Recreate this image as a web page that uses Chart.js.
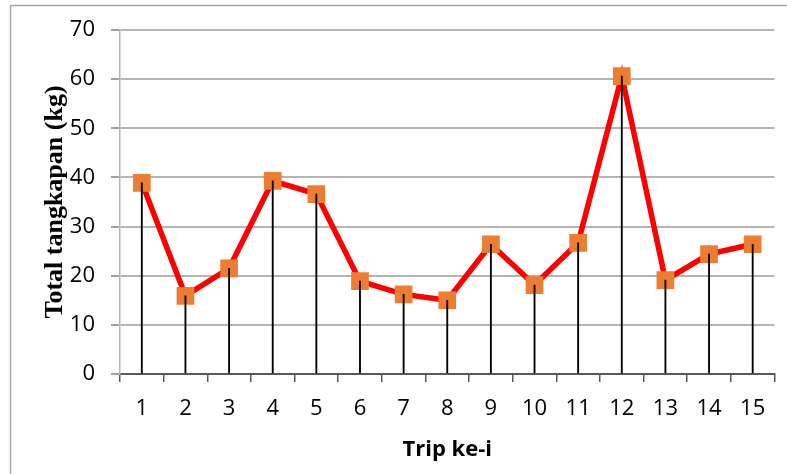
<!DOCTYPE html>
<html>
<head>
<meta charset="utf-8">
<script src="https://cdn.jsdelivr.net/npm/chart.js@4/dist/chart.umd.min.js"></script>
<style>
  html, body { margin: 0; padding: 0; background: #ffffff; }
  canvas { display: block; }
</style>
</head>
<body>
<canvas id="chart" width="787" height="474"></canvas>
<script>
// Catch per fishing trip
const trips = ['1', '2', '3', '4', '5', '6', '7', '8', '9', '10', '11', '12', '13', '14', '15'];
const totalCatchKg = [38.9, 15.9, 21.5, 39.3, 36.6, 18.9, 16.2, 15.0, 26.4, 18.1, 26.7, 60.6, 19.1, 24.4, 26.4];
const yTicks = [0, 10, 20, 30, 40, 50, 60, 70];

const xTitle = 'Trip ke-i';
const yTitle = 'Total tangkapan (kg)';

// Light grey frame around the whole chart
const frame = {
  id: 'frame',
  beforeDraw(chart) {
    const ctx = chart.ctx;
    ctx.save();
    ctx.fillStyle = '#ffffff';
    ctx.fillRect(0, 0, chart.width, chart.height);
    ctx.strokeStyle = '#a6a6a6';
    ctx.lineWidth = 1.5;
    ctx.strokeRect(10.5, 5.5, chart.width + 20, chart.height + 20);
    ctx.restore();
  }
};

const tickFont = { family: '"Open Sans", sans-serif', size: 22 };

new Chart(document.getElementById('chart'), {
  type: 'line',
  data: {
    labels: trips,
    datasets: [
      {
        // thin drop lines from each point to the axis
        type: 'bar',
        data: totalCatchKg,
        backgroundColor: '#000000',
        borderWidth: 0,
        barThickness: 1.2,
        order: 0
      },
      {
        type: 'line',
        data: totalCatchKg,
        borderColor: '#ff0000',
        borderWidth: 5.5,
        tension: 0,
        pointStyle: 'rect',
        pointRadius: 12.5,
        pointHoverRadius: 12.5,
        pointBackgroundColor: '#ed7d31',
        pointBorderWidth: 0,
        order: 1
      }
    ]
  },
  options: {
    responsive: false,
    devicePixelRatio: 1,
    animation: false,
    layout: { padding: { left: 0, top: 30, right: 9, bottom: 0 } },
    plugins: {
      legend: { display: false },
      tooltip: { enabled: false }
    },
    scales: {
      x: {
        type: 'category',
        offset: true,
        grid: {
          offset: true,
          drawOnChartArea: false,
          tickLength: 8,
          color: '#595959',
          lineWidth: 1.5
        },
        border: { color: '#595959', width: 2 },
        ticks: { font: tickFont, color: '#000000', padding: 14, maxRotation: 0 },
        title: {
          display: true,
          text: xTitle,
          color: '#000000',
          font: { family: '"Open Sans", sans-serif', size: 22, weight: 'bold' },
          padding: { top: 0, bottom: 11 }
        },
        afterFit(scale) { scale.height = 100; }
      },
      y: {
        min: 0,
        max: 70,
        afterBuildTicks(scale) { scale.ticks = yTicks.map(v => ({ value: v })); },
        grid: {
          color: '#b4b4b4',
          lineWidth: 2,
          tickLength: 9,
          tickColor: '#a0a0a0'
        },
        border: { color: '#b4b4b4', width: 1.5 },
        ticks: { font: tickFont, color: '#000000', padding: 16 },
        title: {
          display: true,
          text: yTitle,
          color: '#000000',
          font: { family: '"Liberation Serif", serif', size: 26, weight: 'bold' },
          padding: { top: 40, bottom: 0 }
        },
        afterFit(scale) { scale.width = 120; }
      }
    }
  },
  plugins: [frame]
});
</script>
</body>
</html>
